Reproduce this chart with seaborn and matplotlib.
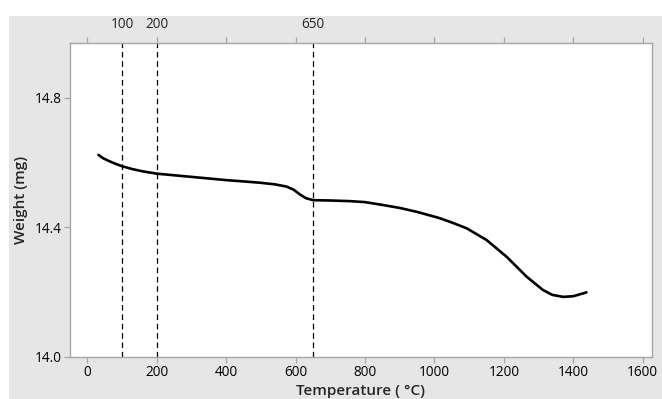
import matplotlib
matplotlib.use("Agg")
import matplotlib.pyplot as plt
import seaborn as sns
import pandas as pd
from matplotlib.patches import Rectangle

temperature = [32, 45, 60, 80, 100, 130, 160, 200, 250, 300, 350, 400, 450, 497, 540, 574,
               595, 612, 630, 651, 700, 757, 800, 852, 900, 949, 1000, 1016, 1050, 1093,
               1150, 1208, 1266, 1313, 1340, 1371, 1400, 1429, 1438]
weight = [14.624, 14.614, 14.606, 14.597, 14.589, 14.580, 14.573, 14.566, 14.561, 14.556,
          14.551, 14.546, 14.542, 14.538, 14.533, 14.526, 14.516, 14.502, 14.490, 14.484,
          14.483, 14.481, 14.478, 14.469, 14.460, 14.448, 14.433, 14.428, 14.415, 14.397,
          14.361, 14.309, 14.247, 14.206, 14.191, 14.185, 14.187, 14.196, 14.199]
ref_lines = [100, 200, 650]
ref_labels = ["100", "200", "650"]
x_ticks = [0, 200, 400, 600, 800, 1000, 1200, 1400, 1600]
y_ticks = [14.0, 14.4, 14.8]

df = pd.DataFrame({"Temperature": temperature, "Weight": weight})

sns.set_style("white")
plt.rcParams["font.family"] = ["Open Sans", "DejaVu Sans"]

fig = plt.figure(figsize=(6.62, 3.99), dpi=100, facecolor="white")
fig.patches.append(Rectangle((9 / 662, 0), 1, (399 - 16) / 399, transform=fig.transFigure,
                             facecolor="#e6e6e6", edgecolor="none", zorder=-10))
ax = fig.add_axes([70 / 662, (399 - 356.7) / 399, (651.7 - 70) / 662, (356.7 - 43) / 399])
ax.set_facecolor("white")

sns.lineplot(data=df, x="Temperature", y="Weight", sort=False, color="black",
             linewidth=1.9, ax=ax)

for xv in ref_lines:
    ax.axvline(xv, color="black", linewidth=0.9, linestyle=(0, (4.5, 3)))

ax.set_xlim(-50, 1626)
ax.set_ylim(14.0, 14.97)
ax.set_xticks(x_ticks)
ax.set_yticks(y_ticks)
ax.set_yticklabels([f"{v:.1f}" for v in y_ticks])

for s in ax.spines.values():
    s.set_color("#a6a6a6")
    s.set_linewidth(1.0)

ax.tick_params(axis="both", direction="out", length=4, width=0.9, color="#a6a6a6",
               labelsize=9.8, labelcolor="black", pad=2)
ax.tick_params(axis="x", top=True, bottom=True, labeltop=False)
ax.tick_params(axis="y", left=True)

sec = ax.secondary_xaxis("top")
sec.set_xticks(ref_lines)
sec.set_xticklabels(ref_labels)
sec.tick_params(length=0, pad=8, labelsize=9.8)
sec.spines["top"].set_visible(False)

ax.set_xlabel("Temperature ( °C)", fontsize=11, fontweight="semibold", labelpad=3)
ax.set_ylabel("Weight (mg)", fontsize=11, fontweight="semibold", labelpad=5)

fig.savefig("out.png", dpi=100, facecolor="white")
